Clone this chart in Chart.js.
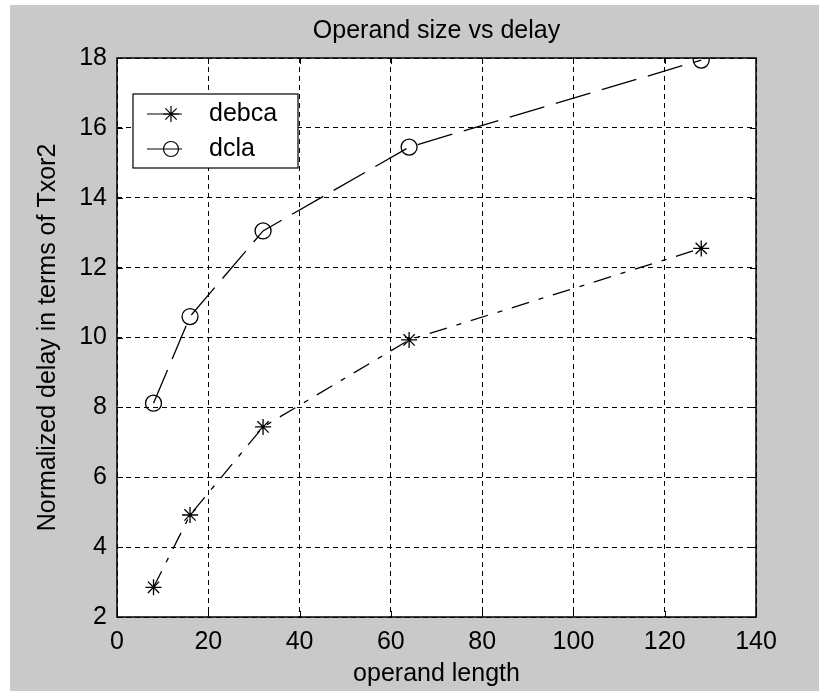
<!DOCTYPE html>
<html>
<head>
<meta charset="utf-8">
<script src="https://cdn.jsdelivr.net/npm/chart.js@4/dist/chart.umd.min.js"></script>
<style>
    html, body { margin: 0; padding: 0; background: #ffffff; }
    #wrap { position: absolute; left: 10px; top: 5px; width: 809px; height: 686px; background: #c9c9c9; }
</style>
</head>
<body>
<div id="wrap"><canvas id="chart"></canvas></div>
<script>
// Operand size vs delay (MATLAB style figure)
var operandLength = [8, 16, 32, 64, 128];
var debcaDelay = [2.85, 4.92, 7.44, 9.93, 12.55];
var dclaDelay = [8.12, 10.6, 13.05, 15.45, 17.94];
var seriesNames = ['debca', 'dcla'];
var xTicks = [0, 20, 40, 60, 80, 100, 120, 140];
var yTicks = [2, 4, 6, 8, 10, 12, 14, 16, 18];

var FONT = "'Liberation Sans', Arial, sans-serif";
Chart.defaults.font.family = FONT;
Chart.defaults.font.size = 25;
Chart.defaults.color = '#000';

function toPoints(xs, ys) {
    return xs.map(function(x, i) { return { x: x, y: ys[i] }; });
}

// white axes background, frame, inward ticks, title and legend
var matlabAxes = {
    id: 'matlabAxes',
    beforeDraw: function(chart) {
        var a = chart.chartArea, ctx = chart.ctx;
        ctx.save();
        ctx.fillStyle = '#fff';
        ctx.fillRect(a.left, a.top, a.right - a.left, a.bottom - a.top);
        ctx.restore();
    },
    afterDatasetsDraw: function(chart) {
        var a = chart.chartArea, ctx = chart.ctx;
        var xs = chart.scales.x, ys = chart.scales.y;
        ctx.save();
        ctx.strokeStyle = '#000';
        ctx.lineWidth = 1;
        ctx.setLineDash([]);
        ctx.beginPath();
        xTicks.forEach(function(v) {
            var px = Math.round(xs.getPixelForValue(v)) + 0.5;
            ctx.moveTo(px, a.bottom); ctx.lineTo(px, a.bottom - 6);
            ctx.moveTo(px, a.top); ctx.lineTo(px, a.top + 6);
        });
        yTicks.forEach(function(v) {
            var py = Math.round(ys.getPixelForValue(v)) + 0.5;
            ctx.moveTo(a.left, py); ctx.lineTo(a.left + 6, py);
            ctx.moveTo(a.right, py); ctx.lineTo(a.right - 6, py);
        });
        ctx.stroke();
        ctx.lineWidth = 1.5;
        ctx.strokeRect(a.left, a.top, a.right - a.left, a.bottom - a.top);

        // title
        ctx.fillStyle = '#000';
        ctx.font = '25px ' + FONT;
        ctx.textAlign = 'center';
        ctx.textBaseline = 'middle';
        ctx.fillText('Operand size vs delay', (a.left + a.right) / 2, a.top - 27);

        // legend box
        var lx = a.left + 16, ly = a.top + 36;
        ctx.fillStyle = '#fff';
        ctx.fillRect(lx, ly, 165, 74);
        ctx.lineWidth = 1.2;
        ctx.strokeRect(lx, ly, 165, 74);
        var rows = [ly + 20, ly + 55];
        ctx.lineWidth = 1.2;
        rows.forEach(function(ry, i) {
            ctx.beginPath();
            ctx.moveTo(lx + 14, ry); ctx.lineTo(lx + 49, ry);
            ctx.stroke();
            var mx = lx + 38;
            ctx.beginPath();
            if (i === 0) {
                var r = 8, d = r * Math.SQRT1_2;
                ctx.moveTo(mx - r, ry); ctx.lineTo(mx + r, ry);
                ctx.moveTo(mx, ry - r); ctx.lineTo(mx, ry + r);
                ctx.moveTo(mx - d, ry - d); ctx.lineTo(mx + d, ry + d);
                ctx.moveTo(mx - d, ry + d); ctx.lineTo(mx + d, ry - d);
            } else {
                ctx.arc(mx, ry, 7.5, 0, Math.PI * 2);
            }
            ctx.stroke();
            ctx.fillStyle = '#000';
            ctx.textAlign = 'left';
            ctx.fillText(seriesNames[i], lx + 76, ry);
        });
        ctx.restore();
    }
};

new Chart(document.getElementById('chart'), {
    type: 'line',
    data: {
        datasets: [{
            label: seriesNames[0],
            data: toPoints(operandLength, debcaDelay),
            borderColor: '#000',
            borderWidth: 1.3,
            borderDash: [18, 10, 5, 10],
            pointStyle: 'star',
            pointRadius: 8,
            pointBorderWidth: 1.3,
            pointBorderColor: '#000',
            pointBackgroundColor: '#000',
            fill: false,
            tension: 0
        }, {
            label: seriesNames[1],
            data: toPoints(operandLength, dclaDelay),
            borderColor: '#000',
            borderWidth: 1.3,
            borderDash: [36, 12],
            pointStyle: 'circle',
            pointRadius: 8,
            pointBorderWidth: 1.3,
            pointBorderColor: '#000',
            pointBackgroundColor: 'rgba(0,0,0,0)',
            fill: false,
            tension: 0
        }]
    },
    options: {
        responsive: true,
        maintainAspectRatio: false,
        animation: false,
        layout: { padding: { top: 53, right: 63, bottom: 1, left: 0 } },
        plugins: {
            legend: { display: false },
            title: { display: false },
            tooltip: { enabled: false }
        },
        scales: {
            x: {
                type: 'linear',
                min: 0,
                max: 140,
                afterBuildTicks: function(scale) {
                    scale.ticks = xTicks.map(function(v) { return { value: v }; });
                },
                afterFit: function(scale) { scale.height = 73; },
                grid: { color: '#000', lineWidth: 1, drawTicks: false },
                border: { display: false, dash: [5, 4] },
                ticks: { padding: 10, maxRotation: 0 },
                title: { display: true, text: 'operand length', padding: { top: 0, bottom: 1 } }
            },
            y: {
                type: 'linear',
                min: 2,
                max: 18,
                afterBuildTicks: function(scale) {
                    scale.ticks = yTicks.map(function(v) { return { value: v }; });
                },
                afterFit: function(scale) { scale.width = 107; },
                grid: { color: '#000', lineWidth: 1, drawTicks: false },
                border: { display: false, dash: [5, 4] },
                ticks: { padding: 10 },
                title: { display: true, text: 'Normalized delay in terms of Txor2', padding: { top: 23, bottom: 0 } }
            }
        }
    },
    plugins: [matlabAxes]
});
</script>
</body>
</html>
